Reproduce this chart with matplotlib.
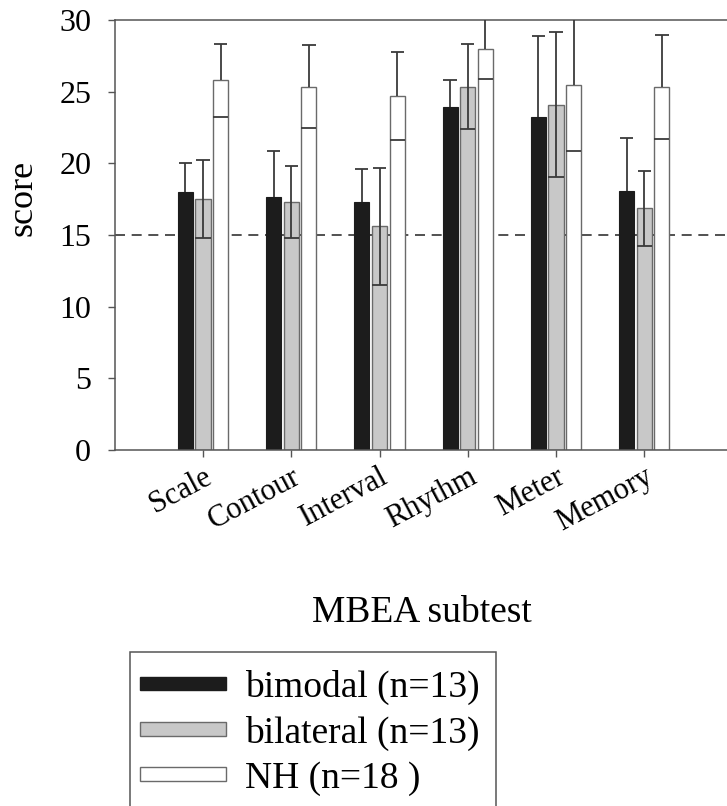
import numpy as np
import matplotlib
matplotlib.use("Agg")
import matplotlib.pyplot as plt
from matplotlib.patches import Patch, Rectangle

plt.rcParams["font.family"] = ["Liberation Serif", "DejaVu Serif"]

subtests = ["Scale", "Contour", "Interval", "Rhythm", "Meter", "Memory"]
bimodal_mean = [18.0, 17.65, 17.3, 23.9, 23.2, 18.05]
bimodal_err = [2.05, 3.2, 2.3, 1.9, 5.7, 3.7]
bilateral_mean = [17.5, 17.3, 15.6, 25.35, 24.1, 16.85]
bilateral_err = [2.7, 2.5, 4.1, 2.95, 5.05, 2.6]
nh_mean = [25.8, 25.35, 24.7, 27.95, 25.5, 25.35]
nh_err = [2.55, 2.9, 3.05, 2.1, 4.65, 3.63]
group_labels = ["bimodal (n=13)", "bilateral (n=13)", "NH (n=18 )"]
chance_level = 15

W, H = 727, 806
fig = plt.figure(figsize=(W / 100, H / 100), dpi=100)
ax = fig.add_axes([114.75 / W, 1 - 450 / H, 617.75 / W, 430 / H])

x = np.arange(1, len(subtests) + 1)
bw = 0.17
off = 0.2
ecol = "#3a3a3a"
cw = 0.075  # half width of whisker caps

def whisker(xc, mean, err, lower_line=True, lower_cap=True):
    mean = np.array(mean)
    err = np.array(err)
    lo = mean - err if lower_line else mean
    ax.vlines(xc, lo, mean + err, color=ecol, lw=1.3, zorder=3)
    ax.hlines(mean + err, xc - cw, xc + cw, color=ecol, lw=1.3, zorder=3)
    if lower_cap:
        ax.hlines(mean - err, xc - bw / 2, xc + bw / 2, color=ecol, lw=1.3, zorder=3)

ax.bar(x - off, bimodal_mean, bw, color="#1c1c1c", edgecolor="#1c1c1c", lw=0.8, zorder=2)
ax.bar(x, bilateral_mean, bw, color="#c8c8c8", edgecolor="#6a6a6a", lw=1.0, zorder=2)
ax.bar(x + off, nh_mean, bw, color="white", edgecolor="#6a6a6a", lw=1.0, zorder=2)

# lower whisker of the dark bars is hidden inside the bar
whisker(x - off, bimodal_mean, bimodal_err, lower_line=False, lower_cap=False)
whisker(x, bilateral_mean, bilateral_err)
whisker(x + off, nh_mean, nh_err, lower_line=False)

ax.axhline(chance_level, color="#333333", lw=1.2, ls=(0, (6, 4)), zorder=1)

ax.set_xlim(0, 7)
ax.set_ylim(0, 30)
ax.set_yticks([0, 5, 10, 15, 20, 25, 30])
ax.set_xticks(x)
ax.set_xticklabels(subtests, rotation=28, ha="right", rotation_mode="anchor", fontsize=22)
ax.tick_params(axis="y", labelsize=23, length=5, width=1, color="#555555", pad=12)
ax.tick_params(axis="x", length=5, width=1, color="#555555", pad=4)
for s in ax.spines.values():
    s.set_color("#555555")
    s.set_linewidth(1.1)

fig.text(23 / W, 1 - 198 / H, "score", rotation=90, ha="center", va="center", fontsize=26)
fig.text(422 / W, 1 - 613 / H, "MBEA subtest", ha="center", va="center", fontsize=27)

handles = [
    Patch(facecolor="#1c1c1c", edgecolor="#1c1c1c"),
    Patch(facecolor="#c8c8c8", edgecolor="#6a6a6a"),
    Patch(facecolor="white", edgecolor="#6a6a6a"),
]
fig.legend(handles, group_labels, loc="upper left", bbox_to_anchor=(140 / W, 1 - 670 / H),
           frameon=False, fontsize=27, handlelength=2.3, handleheight=0.18,
           handletextpad=0.5, labelspacing=0.28, borderpad=0.0, borderaxespad=0.0)
fig.patches.append(Rectangle((130 / W, -0.05), (496 - 130) / W, 0.05 + 1 - 652 / H,
                             transform=fig.transFigure, fill=False, edgecolor="#555555",
                             lw=1.1, clip_on=False))

fig.savefig("out.png", dpi=100)
